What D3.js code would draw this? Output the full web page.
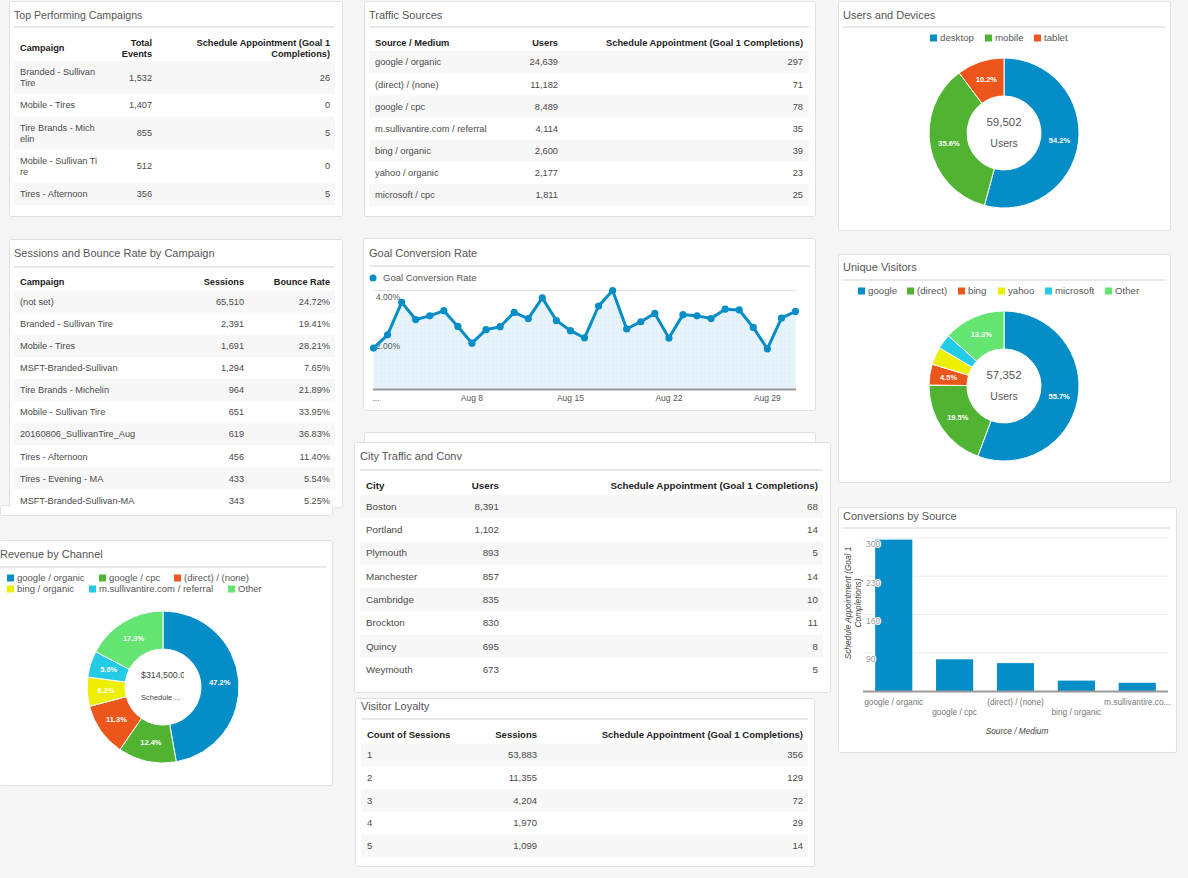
<!DOCTYPE html>
<html><head><meta charset="utf-8">
<script src="https://cdn.jsdelivr.net/npm/d3@7"></script>
<style>
html,body{margin:0;padding:0;background:#f5f5f5;}
svg{display:block;font-family:'Liberation Sans',Arial,sans-serif;}
</style></head>
<body><svg id="c" width="1188" height="878"></svg>
<script>
// ---------------- DATA ----------------
const campaignLabels = [["Branded - Sullivan","Tire"],["Mobile - Tires"],["Tire Brands - Mich","elin"],["Mobile - Sullivan Ti","re"],["Tires - Afternoon"]];
const campaignEvents = [1532,1407,855,512,356];
const campaignGoals = [26,0,5,0,5];

const trafficSources = ["google / organic","(direct) / (none)","google / cpc","m.sullivantire.com / referral","bing / organic","yahoo / organic","microsoft / cpc"];
const trafficUsers = [24639,11182,8489,4114,2600,2177,1811];
const trafficGoals = [297,71,78,35,39,23,25];

const deviceLabels = ["desktop","mobile","tablet"];
const deviceShares = [54.2,35.6,10.2];
const deviceTotal = 59502;

const sessionCampaigns = ["(not set)","Branded - Sullivan Tire","Mobile - Tires","MSFT-Branded-Sullivan","Tire Brands - Michelin","Mobile - Sullivan Tire","20160806_SullivanTire_Aug","Tires - Afternoon","Tires - Evening - MA","MSFT-Branded-Sullivan-MA"];
const sessionCounts = [65510,2391,1691,1294,964,651,619,456,433,343];
const bounceRates = [24.72,19.41,28.21,7.65,21.89,33.95,36.83,11.40,5.54,5.25];

const convDays = [1,2,3,4,5,6,7,8,9,10,11,12,13,14,15,16,17,18,19,20,21,22,23,24,25,26,27,28,29,30,31];
const convRates = [1.66,2.20,3.52,2.82,2.97,3.18,2.54,1.86,2.41,2.53,3.11,2.86,3.70,2.78,2.37,2.08,3.37,4.00,2.44,2.73,3.07,2.07,3.02,2.97,2.86,3.24,3.21,2.50,1.63,2.88,3.15];
const convTickDays = [1,8,15,22,29];
const convTickLabels = ["...","Aug 8","Aug 15","Aug 22","Aug 29"];
const convYTicks = [2,4];

const visitorLabels = ["google","(direct)","bing","yahoo","microsoft","Other"];
const visitorShares = [55.7,19.5,4.5,3.8,3.2,13.3];
const visitorTotal = 57352;

const revenueLabels = ["google / organic","google / cpc","(direct) / (none)","bing / organic","m.sullivantire.com / referral","Other"];
const revenueShares = [47.2,12.4,11.3,6.2,5.6,17.3];
const revenueTotal = "$314,500.00";

const cities = ["Boston","Portland","Plymouth","Manchester","Cambridge","Brockton","Quincy","Weymouth"];
const cityUsers = [8391,1102,893,857,835,830,695,673];
const cityGoals = [68,14,5,14,10,11,8,5];

const convSources = ["google / organic","google / cpc","(direct) / (none)","bing / organic","m.sullivantire.co..."];
const convSourceValues = [297,78,71,39,35];
const convSourceTicks = [90,160,230,300];

const loyaltyCounts = ["1","2","3","4","5"];
const loyaltySessions = [53883,11355,4204,1970,1099];
const loyaltyGoals = [356,129,72,29,14];

const palette = ["#058DC7","#50B432","#ED561B","#EDEF00","#24CBE5","#64E572"];

// ---------------- HELPERS ----------------
const svg = d3.select("#c");
const fmt = d3.format(",");
const defs = svg.append("defs");
const pat = defs.append("pattern").attr("id","dots").attr("width",4).attr("height",4).attr("patternUnits","userSpaceOnUse");
pat.append("rect").attr("width",4).attr("height",4).attr("fill","#e6f3fb");
pat.append("circle").attr("cx",1).attr("cy",1).attr("r",0.5).attr("fill","#cfe4f2");

function panel(p){
  const g = svg.append("g");
  g.append("rect").attr("x",p.x+0.5).attr("y",p.y+0.5).attr("width",p.w).attr("height",p.h)
    .attr("rx",2).attr("fill","#fff").attr("stroke","#e0e0e0");
  g.append("text").attr("x",p.tx).attr("y",p.ty).attr("dy","0.35em").attr("font-size",p.tfs||11)
    .attr("fill","#555").text(p.title);
  g.append("line").attr("x1",p.sx0).attr("x2",p.sx1).attr("y1",p.sy).attr("y2",p.sy)
    .attr("stroke","#e8e8e8").attr("stroke-width",2);
  return g;
}

function table(g,t){
  let y = t.rowTop;
  const tops = t.rowHeights.map(h=>{const v=y; y+=h; return v;});
  const rowG = g.selectAll(null).data(t.rows).join("g");
  rowG.each(function(row,i){
    const rg = d3.select(this);
    const h = t.rowHeights[i];
    if(i%2===0) rg.append("rect").attr("x",t.x0).attr("y",tops[i]).attr("width",t.x1-t.x0).attr("height",h).attr("fill","#f7f7f7");
    row.forEach((cell,j)=>{
      const lines = Array.isArray(cell)?cell:[cell];
      const c = t.cols[j];
      const cy = tops[i]+h/2;
      lines.forEach((ln,k)=>{
        rg.append("text").attr("x",c.x).attr("y",cy+(k-(lines.length-1)/2)*t.lh).attr("dy","0.35em")
          .attr("text-anchor",c.anchor).attr("font-size",t.fs).attr("fill","#4a4a4a").text(ln);
      });
    });
  });
  t.headers.forEach((hd,j)=>{
    const c = t.cols[j];
    hd.forEach((ln,k)=>{
      g.append("text").attr("x",c.x).attr("y",t.headerY+(k-(hd.length-1)/2)*t.lh).attr("dy","0.35em")
        .attr("text-anchor",c.anchor).attr("font-size",t.fs).attr("font-weight","bold").attr("fill","#222").text(ln);
    });
  });
}

function donut(g,o){
  const pie = d3.pie().sort(null).value(d=>d);
  const arcs = pie(o.values);
  const arc = d3.arc().innerRadius(o.ri).outerRadius(o.ro);
  const mid = d3.arc().innerRadius((o.ri+o.ro)/2).outerRadius((o.ri+o.ro)/2);
  const dg = g.append("g").attr("transform",`translate(${o.cx},${o.cy})`);
  dg.selectAll("path").data(arcs).join("path").attr("d",arc)
    .attr("fill",(d,i)=>o.colors[i]).attr("stroke","#fff").attr("stroke-width",1);
  dg.selectAll("text.pl").data(arcs.filter(a=>a.value>=4)).join("text").attr("class","pl")
    .attr("transform",d=>`translate(${mid.centroid(d)})`).attr("dy","0.35em").attr("text-anchor","middle")
    .attr("font-size",7.5).attr("font-weight","bold").attr("fill","#fff").text(d=>d.value.toFixed(1)+"%");
  return dg;
}

function legend(g,items,colors,pos,fs){
  items.forEach((t,i)=>{
    const p = pos[i];
    g.append("rect").attr("x",p[0]).attr("y",p[1]-3.5).attr("width",7).attr("height",7).attr("fill",colors[i]);
    g.append("text").attr("x",p[0]+10).attr("y",p[1]).attr("dy","0.35em").attr("font-size",fs).attr("fill","#555").text(t);
  });
}

// ---------------- 1. Top Performing Campaigns ----------------
{
  const g = panel({x:9,y:1,w:333,h:215,title:"Top Performing Campaigns",tx:14,ty:15,sy:27,sx0:14,sx1:335,tfs:10.6});
  table(g,{x0:14,x1:335,headerY:48,rowTop:61,lh:11,fs:9.2,
    rowHeights:campaignLabels.map(l=>l.length>1?33:22.5),
    cols:[{x:20,anchor:"start"},{x:152,anchor:"end"},{x:330,anchor:"end"}],
    headers:[["Campaign"],["Total","Events"],["Schedule Appointment (Goal 1","Completions)"]],
    rows:campaignLabels.map((l,i)=>[l,fmt(campaignEvents[i]),fmt(campaignGoals[i])])});
}

// ---------------- 2. Traffic Sources ----------------
{
  const g = panel({x:364,y:1,w:451,h:215,title:"Traffic Sources",tx:369,ty:15,sy:27,sx0:369,sx1:809});
  table(g,{x0:369,x1:809,headerY:42.7,rowTop:51,lh:11,fs:9.3,
    rowHeights:trafficSources.map(()=>22.17),
    cols:[{x:375,anchor:"start"},{x:558,anchor:"end"},{x:803,anchor:"end"}],
    headers:[["Source / Medium"],["Users"],["Schedule Appointment (Goal 1 Completions)"]],
    rows:trafficSources.map((s,i)=>[s,fmt(trafficUsers[i]),fmt(trafficGoals[i])])});
}

// ---------------- 3. Users and Devices ----------------
{
  const g = panel({x:838,y:1,w:332,h:229,title:"Users and Devices",tx:843,ty:15,sy:27,sx0:843,sx1:1165});
  legend(g,deviceLabels,palette,[[930,38],[985,38],[1034,38]],9.7);
  const dg = donut(g,{cx:1004,cy:133,ro:75,ri:37,values:deviceShares,colors:palette});
  dg.append("text").attr("y",-11).attr("dy","0.35em").attr("text-anchor","middle").attr("font-size",11.5).attr("fill","#555").text(fmt(deviceTotal));
  dg.append("text").attr("y",10.5).attr("dy","0.35em").attr("text-anchor","middle").attr("font-size",10.5).attr("fill","#555").text("Users");
}

// ---------------- 4. Sessions and Bounce Rate ----------------
{
  svg.append("rect").attr("x",0.5).attr("y",505.5).attr("width",332).attr("height",10).attr("rx",2).attr("fill","#fff").attr("stroke","#e0e0e0");
  const g = panel({x:9,y:239,w:333,h:268,title:"Sessions and Bounce Rate by Campaign",tx:14,ty:253,sy:267,sx0:14,sx1:335});
  g.append("rect").attr("x",1).attr("y",507).attr("width",331).attr("height",8).attr("fill","#fff");
  table(g,{x0:14,x1:335,headerY:281.7,rowTop:290.6,lh:11,fs:9.2,
    rowHeights:sessionCampaigns.map(()=>22.1),
    cols:[{x:20,anchor:"start"},{x:244,anchor:"end"},{x:330,anchor:"end"}],
    headers:[["Campaign"],["Sessions"],["Bounce Rate"]],
    rows:sessionCampaigns.map((s,i)=>[s,fmt(sessionCounts[i]),bounceRates[i].toFixed(2)+"%"])});
}

// ---------------- 5. Goal Conversion Rate ----------------
{
  svg.append("rect").attr("x",364.5).attr("y",432.5).attr("width",451).attr("height",30).attr("rx",2).attr("fill","#fff").attr("stroke","#e0e0e0");
  const g = panel({x:363,y:238,w:452,h:172,title:"Goal Conversion Rate",tx:369,ty:253,sy:266,sx0:369,sx1:810});
  g.append("circle").attr("cx",373).attr("cy",278).attr("r",3.5).attr("fill",palette[0]);
  g.append("text").attr("x",383).attr("y",278).attr("dy","0.35em").attr("font-size",9.5).attr("fill","#555").text("Goal Conversion Rate");
  const x = d3.scaleLinear().domain([1,31]).range([373.5,795.5]);
  const y = d3.scaleLinear().domain([0,4]).range([389,290.5]);
  g.selectAll("line.grid").data(convYTicks).join("line").attr("class","grid")
    .attr("x1",373).attr("x2",796).attr("y1",d=>y(d)).attr("y2",d=>y(d)).attr("stroke","#e2e2e2");
  const area = d3.area().x((d,i)=>x(convDays[i])).y0(y(0)).y1(d=>y(d));
  g.append("path").datum(convRates).attr("d",area).attr("fill","url(#dots)");
  g.append("line").attr("x1",373).attr("x2",796).attr("y1",y(0)+0.5).attr("y2",y(0)+0.5).attr("stroke","#999").attr("stroke-width",2);
  g.selectAll("text.yl").data(convYTicks).join("text").attr("class","yl")
    .attr("x",376).attr("y",d=>y(d)+6.5).attr("dy","0.35em").attr("font-size",8.5).attr("fill","#555").text(d=>d.toFixed(2)+"%");
  const line = d3.line().x((d,i)=>x(convDays[i])).y(d=>y(d));
  g.append("path").datum(convRates).attr("d",line).attr("fill","none").attr("stroke",palette[0]).attr("stroke-width",3).attr("stroke-linejoin","round");
  g.selectAll("circle.pt").data(convRates).join("circle").attr("class","pt")
    .attr("cx",(d,i)=>x(convDays[i])).attr("cy",d=>y(d)).attr("r",3.6).attr("fill",palette[0]);
  g.selectAll("text.xl").data(convTickDays).join("text").attr("class","xl")
    .attr("x",(d,i)=>i===0?x(d)-1:x(d)).attr("y",398).attr("dy","0.35em").attr("text-anchor",(d,i)=>i===0?"start":"middle")
    .attr("font-size",8.5).attr("fill","#555").text((d,i)=>convTickLabels[i]);
}

// ---------------- 6. Unique Visitors ----------------
{
  const g = panel({x:838,y:254,w:332,h:228,title:"Unique Visitors",tx:843,ty:267,sy:280,sx0:843,sx1:1165});
  legend(g,visitorLabels,palette,[[858,291],[907,291],[958,291],[998,291],[1045,291],[1105,291]],9.7);
  const dg = donut(g,{cx:1004,cy:386,ro:75,ri:37,values:visitorShares,colors:palette});
  dg.append("text").attr("y",-11).attr("dy","0.35em").attr("text-anchor","middle").attr("font-size",11.5).attr("fill","#555").text(fmt(visitorTotal));
  dg.append("text").attr("y",10.5).attr("dy","0.35em").attr("text-anchor","middle").attr("font-size",10.5).attr("fill","#555").text("Users");
}

// ---------------- 7. Revenue by Channel ----------------
{
  const g = panel({x:-1,y:540,w:333,h:245,title:"Revenue by Channel",tx:0,ty:554,sy:567,sx0:0,sx1:327});
  legend(g,revenueLabels,palette,[[7,578],[99,578],[174,578],[7,589],[89,589],[228,589]],9.5);
  const dg = donut(g,{cx:163,cy:687,ro:76,ri:38,values:revenueShares,colors:palette});
  defs.append("clipPath").attr("id","rc").append("rect").attr("x",-23).attr("y",-30).attr("width",44).attr("height",60);
  const cg = dg.append("g").attr("clip-path","url(#rc)");
  cg.append("text").attr("x",-22).attr("y",-12).attr("dy","0.35em").attr("font-size",8.8).attr("fill","#444").text(revenueTotal);
  cg.append("text").attr("x",-22).attr("y",10).attr("dy","0.35em").attr("font-size",7.5).attr("fill","#444").text("Schedule ...");
}

// ---------------- 8. City Traffic and Conv ----------------
{
  const g = panel({x:354,y:442,w:476,h:250,title:"City Traffic and Conv",tx:360,ty:456,sy:470,sx0:360,sx1:823});
  table(g,{x0:360,x1:823,headerY:486,rowTop:494.7,lh:11,fs:9.8,
    rowHeights:cities.map(()=>23.33),
    cols:[{x:366,anchor:"start"},{x:499,anchor:"end"},{x:818,anchor:"end"}],
    headers:[["City"],["Users"],["Schedule Appointment (Goal 1 Completions)"]],
    rows:cities.map((c,i)=>[c,fmt(cityUsers[i]),fmt(cityGoals[i])])});
}

// ---------------- 9. Conversions by Source ----------------
{
  const g = panel({x:838,y:507,w:338,h:245,title:"Conversions by Source",tx:843,ty:516,sy:528,sx0:843,sx1:1170});
  const x = d3.scaleBand().domain(convSources).range([863,1168]).paddingInner(0.39).paddingOuter(0.2);
  const y = d3.scaleLinear().domain([20,300]).range([691,538]);
  g.selectAll("line.grid").data(convSourceTicks).join("line").attr("class","grid")
    .attr("x1",863).attr("x2",1168).attr("y1",d=>y(d)).attr("y2",d=>y(d)).attr("stroke","#eee");
  g.selectAll("rect.bar").data(convSourceValues).join("rect").attr("class","bar")
    .attr("x",(d,i)=>x(convSources[i])).attr("width",x.bandwidth())
    .attr("y",d=>y(d)).attr("height",d=>y(20)-y(d)).attr("fill",palette[0]);
  g.append("line").attr("x1",863).attr("x2",1168).attr("y1",y(20)+0.5).attr("y2",y(20)+0.5).attr("stroke","#999").attr("stroke-width",2);
  g.selectAll("text.yl").data(convSourceTicks).join("text").attr("class","yl")
    .attr("x",866).attr("y",d=>y(d)+6.5).attr("dy","0.35em").attr("font-size",8.5).attr("fill","#999")
    .attr("stroke","#fff").attr("stroke-width",2).attr("paint-order","stroke").text(d=>d);
  g.selectAll("text.xl").data(convSources).join("text").attr("class","xl")
    .attr("x",d=>x(d)+x.bandwidth()/2).attr("y",(d,i)=>i%2===0?702:712).attr("dy","0.35em")
    .attr("text-anchor","middle").attr("font-size",8.3).attr("fill","#777").text(d=>d);
  g.append("text").attr("x",1017).attr("y",731).attr("dy","0.35em").attr("text-anchor","middle")
    .attr("font-size",8.3).attr("font-style","italic").attr("fill","#444").text("Source / Medium");
  const yt = g.append("text").attr("transform","translate(851,603) rotate(-90)").attr("text-anchor","middle")
    .attr("font-size",8.3).attr("font-style","italic").attr("fill","#444");
  yt.append("tspan").attr("x",0).attr("y",0).text("Schedule Appointment (Goal 1");
  yt.append("tspan").attr("x",0).attr("y",9.5).text("Completions)");
}

// ---------------- 10. Visitor Loyalty ----------------
{
  const g = panel({x:355,y:698,w:459,h:168,title:"Visitor Loyalty",tx:361,ty:706,sy:719,sx0:361,sx1:808});
  table(g,{x0:361,x1:808,headerY:734.3,rowTop:743.7,lh:11,fs:9.5,
    rowHeights:loyaltyCounts.map(()=>22.67),
    cols:[{x:367,anchor:"start"},{x:537,anchor:"end"},{x:803,anchor:"end"}],
    headers:[["Count of Sessions"],["Sessions"],["Schedule Appointment (Goal 1 Completions)"]],
    rows:loyaltyCounts.map((c,i)=>[c,fmt(loyaltySessions[i]),fmt(loyaltyGoals[i])])});
}
</script>
</body></html>
